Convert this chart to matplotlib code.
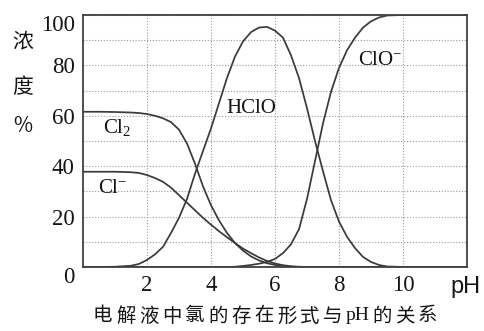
import numpy as np
import matplotlib
matplotlib.use("Agg")
import matplotlib.pyplot as plt

# pH values where the curves were read
ph = [0, 0.5, 1, 1.5, 1.75, 2, 2.25, 2.5, 2.75, 3, 3.25, 3.5, 3.75, 4,
      4.25, 4.5, 4.75, 5, 5.25, 5.5, 5.75, 6, 6.25, 6.5, 6.75, 7, 7.25,
      7.5, 7.75, 8, 8.25, 8.5, 8.75, 9, 9.25, 9.5, 10, 11, 12]

# concentration (%) of each species
cl2 = [61.6, 61.6, 61.5, 61.3, 61.1, 60.7, 60.0, 59.0, 57.5, 54.5, 49.0,
       41.0, 32.0, 24.5, 18.5, 13.5, 9.5, 6.5, 4.2, 2.6, 1.5, 0.8, 0.4,
       0.1, 0, 0, 0, 0, 0, 0, 0, 0, 0, 0, 0, 0, 0, 0, 0]
cl_minus = [37.8, 37.8, 37.8, 37.6, 37.3, 36.5, 35.3, 33.8, 31.5, 28.5,
            25.5, 22.5, 19.5, 16.8, 14.2, 11.8, 9.5, 7.3, 5.5, 3.8, 2.4,
            1.4, 0.7, 0.3, 0.1, 0, 0, 0, 0, 0, 0, 0, 0, 0, 0, 0, 0, 0, 0]
hclo = [0, 0, 0.1, 0.5, 1.2, 2.8, 5.0, 8.0, 13.5, 19.5, 27.0, 37.0, 46.0,
        55.0, 65.0, 75.0, 83.5, 89.5, 93.2, 95.0, 95.3, 93.8, 91.0, 84.0,
        75.0, 63.0, 50.0, 38.0, 26.5, 18.0, 12.0, 7.5, 4.0, 2.0, 0.8, 0.2,
        0, 0, 0]
clo_minus = [0, 0, 0, 0, 0, 0, 0, 0, 0, 0, 0, 0, 0, 0, 0, 0, 0.1, 0.4, 0.8,
             1.3, 2.0, 3.2, 5.5, 9.0, 15.0, 27.0, 42.0, 57.0, 69.5, 79.0,
             86.0, 91.0, 95.0, 97.5, 99.0, 99.8, 100, 100, 100]

x_ticks = [2, 4, 6, 8, 10]
y_ticks = [0, 20, 40, 60, 80, 100]
caption = ["电", "解", "液", "中", "氯", "的", "存", "在", "形", "式", "与",
           "pH", "的", "关", "系"]

plt.rcParams["font.family"] = ["Liberation Serif", "DejaVu Serif"]
plt.rcParams["mathtext.fontset"] = "custom"
plt.rcParams["mathtext.rm"] = "Liberation Serif"
plt.rcParams["mathtext.default"] = "regular"

txt = "#151515"
line_c = "#3a3a3a"

fig = plt.figure(figsize=(4.85, 3.31), dpi=100)
ax = fig.add_axes([0.1711, 0.1934, 0.7918, 0.7613])

for serie in [cl2, cl_minus, hclo, clo_minus]:
    ax.plot(ph, serie, color=line_c, lw=1.25)

ax.set_xlim(0, 12)
ax.set_ylim(0, 100)

# grid: every 2 pH, every 10 %
ax.set_xticks(x_ticks)
ax.set_yticks(y_ticks)
ax.set_yticks(np.arange(10, 100, 10), minor=True)
ax.grid(True, which="both", color="#9a9a9a", lw=0.8, ls=(0, (1, 1.6)))
ax.set_axisbelow(True)
ax.tick_params(which="both", length=0, labelsize=16.5, labelcolor=txt, pad=6)
ax.set_xticklabels([str(v) for v in x_ticks])
ax.set_yticklabels([str(v) for v in y_ticks])
ticks = ax.yaxis.get_major_ticks()
ticks[0].label1.set_va("top")
ticks[-1].label1.set_va("top")

for s in ax.spines.values():
    s.set_color("#404040")
    s.set_linewidth(1.3)

# species labels
ax.text(0.62, 53.2, "Cl$_2$", fontsize=15, color=txt, va="baseline")
ax.text(0.47, 29.4, "Cl$^{-}$", fontsize=15, color=txt, va="baseline")
ax.text(4.49, 61.0, "HClO", fontsize=15, color=txt, va="baseline")
ax.text(8.59, 80.2, "ClO$^{-}$", fontsize=15, color=txt, va="baseline")

# axis labels
fig.text(450 / 485, 1 - 293 / 331, "pH", fontsize=17, color=txt,
         family=["Liberation Sans", "DejaVu Sans"], va="baseline")
cjk = ["Noto Sans CJK SC", "DejaVu Sans"]
for ch, yc in zip(["浓", "度", "%"], [41, 87, 126]):
    fig.text(23 / 485, 1 - yc / 331, ch, fontsize=15, color=txt,
             family=cjk, ha="center", va="center")

# caption, one character at a time to keep the spacing
xpos = 93
for tok in caption:
    if tok == "pH":
        fig.text(xpos / 485, 1 - 316 / 331, tok, fontsize=14, color=txt,
                 ha="left", va="center")
        xpos += 26
    else:
        fig.text(xpos / 485, 1 - 316 / 331, tok, fontsize=14, color=txt,
                 family=cjk, weight="medium", ha="left", va="center")
        xpos += 23

fig.savefig("out.png", dpi=100)
